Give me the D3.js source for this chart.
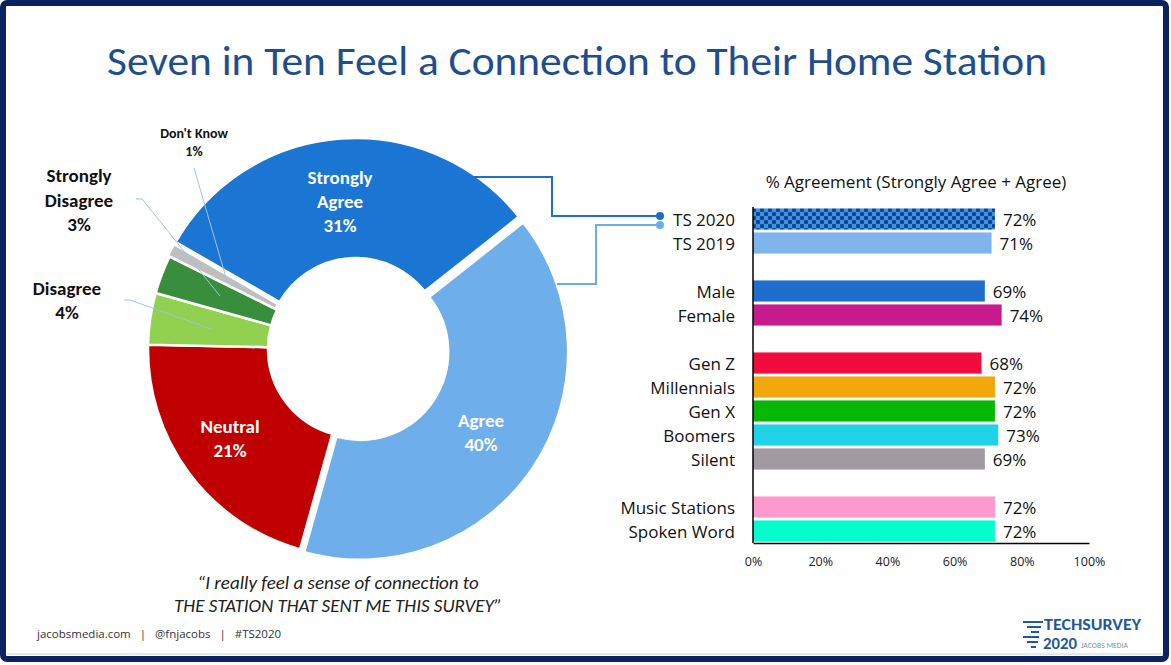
<!DOCTYPE html>
<html>
<head>
<meta charset="utf-8">
<script src="https://cdn.jsdelivr.net/npm/d3@7"></script>
<style>
  html, body { margin: 0; padding: 0; background: #fff; }
  svg { display: block; font-family: Carlito, Calibri, "Open Sans", sans-serif; }
  .ui { font-family: "Open Sans", "Segoe UI", sans-serif; }
</style>
</head>
<body>
<svg id="chart" width="1171" height="665"></svg>
<script>
// donut data
const donutLabels = ['Strongly Agree', 'Agree', 'Neutral', 'Disagree', 'Strongly Disagree', "Don't Know"];
const donutValues = [31, 40, 21, 4, 3, 1];
const donutColors = ['#1a76d2', '#6daeeb', '#c00000', '#92d050', '#388e3c', '#bfbfbf'];

// bar data ('' rows are spacers)
const barCategories = ['TS 2020', 'TS 2019', '', 'Male', 'Female', '', 'Gen Z', 'Millennials', 'Gen X', 'Boomers', 'Silent', '', 'Music Stations', 'Spoken Word'];
const barValues = [72, 71, null, 69, 74, null, 68, 72, 72, 73, 69, null, 72, 72];
const barColors = ['url(#checks)', '#7fb5ec', null, '#1e6fcc', '#c71a8c', null, '#f20c3e', '#f2a80c', '#05b805', '#1ed3e6', '#a19aa0', null, '#fd99cc', '#03fdcc'];
const xTicks = [0, 20, 40, 60, 80, 100];

const svg = d3.select('#chart');

// frame
svg.append('rect')
  .attr('x', 3).attr('y', 3).attr('width', 1163).attr('height', 656)
  .attr('rx', 4)
  .attr('fill', '#fff').attr('stroke', '#0b2160').attr('stroke-width', 6);
svg.append('line')
  .attr('x1', 7).attr('x2', 1163).attr('y1', 654).attr('y2', 654)
  .attr('stroke', '#d0d0d0').attr('stroke-width', 1);

// title
svg.append('text')
  .attr('x', 577).attr('y', 75)
  .attr('text-anchor', 'middle')
  .attr('textLength', 940).attr('lengthAdjust', 'spacingAndGlyphs')
  .attr('fill', '#1f4e8c')
  .style('font-size', '41px')
  .text('Seven in Ten Feel a Connection to Their Home Station');

// pattern for TS 2020 bar
const defs = svg.append('defs');
const pat = defs.append('pattern')
  .attr('id', 'checks').attr('patternUnits', 'userSpaceOnUse')
  .attr('width', 8).attr('height', 8);
pat.append('rect').attr('width', 8).attr('height', 8).attr('fill', '#1656a0');
pat.append('rect').attr('x', 4).attr('width', 4).attr('height', 4).attr('fill', '#3f92e6');
pat.append('rect').attr('y', 4).attr('width', 4).attr('height', 4).attr('fill', '#3f92e6');
pat.append('circle').attr('cx', 2).attr('cy', 2).attr('r', 1.6).attr('fill', '#0d3f7a');
pat.append('circle').attr('cx', 6).attr('cy', 6).attr('r', 1.6).attr('fill', '#0d3f7a');

// ---- donut ----
const cx = 356, cy = 349;
const rOuter = 208, rInner = 88;
const explode = [3, 5, 0, 0, 0, 2];

const pie = d3.pie().sort(null)
  .startAngle(300 * Math.PI / 180)
  .endAngle(660 * Math.PI / 180);
const arc = d3.arc().innerRadius(rInner).outerRadius(rOuter);
const slices = pie(donutValues);

const donut = svg.append('g').attr('transform', `translate(${cx},${cy})`);
donut.selectAll('path.slice')
  .data(slices)
  .enter()
  .append('path')
  .attr('class', 'slice')
  .attr('d', arc)
  .attr('transform', (d, i) => {
    const a = (d.startAngle + d.endAngle) / 2;
    return `translate(${Math.sin(a) * explode[i]},${-Math.cos(a) * explode[i]})`;
  })
  .attr('fill', (d, i) => donutColors[i])
  .attr('stroke', '#fff')
  .attr('stroke-width', 2.5);

// inside labels
const insideLabels = [
  { i: 0, lines: ['Strongly', 'Agree', '31%'], x: 340, y: 177 },
  { i: 1, lines: ['Agree', '40%'], x: 481, y: 420 },
  { i: 2, lines: ['Neutral', '21%'], x: 230, y: 426 }
];
insideLabels.forEach(l => {
  const t = svg.append('text')
    .attr('text-anchor', 'middle')
    .attr('fill', '#fff')
    .style('font-size', '19px').style('font-weight', 'bold');
  l.lines.forEach((s, k) => {
    t.append('tspan').attr('x', l.x).attr('y', l.y + 6.5 + k * 24).text(s);
  });
});

// outside labels + leader lines
const outsideLabels = [
  { lines: ['Strongly', 'Disagree', '3%'], x: 79, y: 176, size: 19, step: 24.5, leader: [[136, 199], [142, 199], [220, 296]] },
  { lines: ['Disagree', '4%'], x: 67, y: 289, size: 19, step: 23.5, leader: [[124, 300], [130, 300], [211, 329]] },
  { lines: ["Don't Know", '1%'], x: 194, y: 133, size: 14, step: 18, leader: [[194, 168], [227, 281]] }
];
outsideLabels.forEach(l => {
  const t = svg.append('text')
    .attr('text-anchor', 'middle')
    .attr('fill', '#111')
    .style('font-size', l.size + 'px').style('font-weight', 'bold');
  l.lines.forEach((s, k) => {
    t.append('tspan').attr('x', l.x).attr('y', l.y + l.size / 3 + k * l.step).text(s);
  });
  svg.append('path')
    .attr('d', d3.line()(l.leader))
    .attr('fill', 'none')
    .attr('stroke', '#9dc3e6').attr('stroke-width', 1);
});

// quote
const quote = svg.append('text')
  .attr('text-anchor', 'middle')
  .attr('fill', '#222')
  .style('font-size', '19px').style('font-style', 'italic');
quote.append('tspan').attr('x', 338).attr('y', 589).text('\u201CI really feel a sense of connection to');
quote.append('tspan').attr('x', 338).attr('y', 612).text('THE STATION THAT SENT ME THIS SURVEY\u201D');

// ---- bars ----
const x = d3.scaleLinear().domain([0, 100]).range([753, 1089]);
const y = d3.scaleBand()
  .domain(barCategories.map((d, i) => i))
  .range([207, 543])
  .paddingInner(0.12).paddingOuter(0.06);

const rows = barCategories.map((c, i) => ({ c, v: barValues[i], col: barColors[i], i }))
  .filter(d => d.v !== null);

svg.append('text')
  .attr('class', 'ui')
  .attr('x', 916).attr('y', 188)
  .attr('text-anchor', 'middle')
  .attr('fill', '#111')
  .style('font-size', '17px')
  .text('% Agreement (Strongly Agree + Agree)');

svg.selectAll('rect.bar')
  .data(rows)
  .enter()
  .append('rect')
  .attr('class', 'bar')
  .attr('x', x(0))
  .attr('y', d => y(d.i))
  .attr('width', d => x(d.v) - x(0))
  .attr('height', y.bandwidth())
  .attr('fill', d => d.col);

svg.selectAll('text.val')
  .data(rows)
  .enter()
  .append('text')
  .attr('class', 'val ui')
  .attr('x', d => x(d.v) + 8)
  .attr('y', d => y(d.i) + y.bandwidth() / 2 + 6.5)
  .attr('fill', '#111')
  .style('font-size', '17px')
  .text(d => d.v + '%');

svg.selectAll('text.cat')
  .data(rows)
  .enter()
  .append('text')
  .attr('class', 'cat ui')
  .attr('x', 735)
  .attr('y', d => y(d.i) + y.bandwidth() / 2 + 6.5)
  .attr('text-anchor', 'end')
  .attr('fill', '#111')
  .style('font-size', '17px')
  .text(d => d.c);

// axes
const xAxis = svg.append('g')
  .attr('transform', 'translate(0,543)')
  .call(d3.axisBottom(x).tickValues(xTicks).tickSize(0).tickPadding(14).tickFormat(d => d + '%'));
xAxis.select('.domain').attr('stroke', '#000').attr('stroke-width', 1.5);
xAxis.selectAll('text').style('font-size', '12.5px').attr('fill', '#222')
  .style('font-family', '"Open Sans", "Segoe UI", sans-serif');

svg.append('line')
  .attr('x1', x(0)).attr('x2', x(0))
  .attr('y1', 207).attr('y2', 543)
  .attr('stroke', '#000').attr('stroke-width', 1.5);

// connectors from donut to bars
const connSA = [[473, 177], [552, 177], [552, 216], [660, 216]];
const connA = [[557, 284], [596, 284], [596, 225], [660, 225]];
[[connSA, '#1e6fcc'], [connA, '#6aaee8']].forEach(([pts, col]) => {
  svg.append('path')
    .attr('d', d3.line()(pts))
    .attr('fill', 'none').attr('stroke', col).attr('stroke-width', 2);
  const end = pts[pts.length - 1];
  svg.append('circle').attr('cx', end[0]).attr('cy', end[1]).attr('r', 4).attr('fill', col);
});

// footer
svg.append('text')
  .attr('class', 'ui')
  .attr('x', 37).attr('y', 638)
  .attr('fill', '#333')
  .style('font-size', '11.5px')
  .attr('xml:space', 'preserve')
  .text('jacobsmedia.com   |   @fnjacobs   |   #TS2020');

// logo
const logo = svg.append('g').attr('fill', '#1f5a96');
[[1023, 621, 20], [1027, 626, 14], [1031, 631, 8]].forEach(([lx, ly, w]) => {
  logo.append('rect').attr('x', lx).attr('y', ly).attr('width', w).attr('height', 2);
});
[[1023, 636, 16], [1027, 641, 11], [1031, 646, 5]].forEach(([lx, ly, w]) => {
  logo.append('rect').attr('x', lx).attr('y', ly).attr('width', w).attr('height', 2);
});
logo.append('text').attr('x', 1044).attr('y', 630)
  .style('font-size', '15px').style('font-weight', 'bold')
  .attr('textLength', 97).attr('lengthAdjust', 'spacingAndGlyphs')
  .text('TECHSURVEY');
logo.append('text').attr('x', 1043).attr('y', 649)
  .style('font-size', '15px').style('font-weight', 'bold')
  .attr('textLength', 34).attr('lengthAdjust', 'spacingAndGlyphs')
  .text('2020');
logo.append('text').attr('x', 1081).attr('y', 648)
  .attr('fill', '#7f8fa6')
  .attr('textLength', 47).attr('lengthAdjust', 'spacingAndGlyphs')
  .style('font-size', '7px')
  .text('JACOBS MEDIA');
</script>
</body>
</html>
